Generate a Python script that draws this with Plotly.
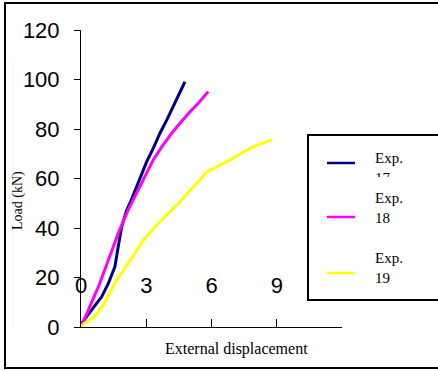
import plotly.graph_objects as go

# Load-displacement curves (displacement, load in kN)
exp17_x = [0, 0.03, 0.49, 0.95, 1.26, 1.56, 1.71, 1.87, 2.10, 2.25, 2.56, 2.79, 3.02, 3.32, 3.63, 3.94, 4.24, 4.47, 4.78]
exp17_y = [0, 1.5, 6.9, 12.2, 17.7, 24.4, 32.4, 40.5, 47.3, 50.0, 56.7, 62.1, 66.8, 72.2, 78.3, 83.6, 89.0, 93.1, 99.1]

exp18_x = [0, 0.34, 0.80, 1.26, 1.71, 2.17, 2.63, 2.94, 3.32, 3.71, 4.17, 4.55, 5.01, 5.39, 5.85]
exp18_y = [0, 6.9, 16.3, 27.1, 37.9, 47.3, 55.4, 60.7, 67.5, 72.8, 78.3, 82.3, 87.0, 90.4, 95.1]

exp19_x = [0, 0.16, 0.62, 1.08, 1.55, 2.01, 2.47, 2.93, 3.70, 4.31, 4.62, 5.09, 5.47, 5.78, 6.24, 6.85, 7.47, 8.08, 8.78]
exp19_y = [0, 1.5, 4.2, 9.6, 17.7, 23.7, 29.8, 35.8, 43.2, 48.6, 51.3, 56.0, 59.4, 62.7, 64.8, 67.5, 70.8, 73.5, 75.6]

series_names = ["Exp.<br>17", "Exp.<br>18", "Exp.<br>19"]
series_colors = ["#000080", "#FF00FF", "#FFFF00"]

x_ticks = [0, 3, 6, 9, 12]
x_tick_labels = ["0", "3", "6", "9", ""]
y_ticks = [0, 20, 40, 60, 80, 100, 120]
y_tick_labels = ["0", "20", "40", "60", "80", "100", "120"]

W, H = 438, 371
ML, MR, MT, MB = 81, 96, 30, 44
PW, PH = W - ML - MR, H - MT - MB


def px(xp):
    return (xp - ML) / PW


def py(yp):
    return (H - MB - yp) / PH


SANS = "Liberation Sans, Arial, sans-serif"
SERIF = "Liberation Serif, Times New Roman, serif"

fig = go.Figure()
for xs, ys, name, col in zip([exp17_x, exp18_x, exp19_x], [exp17_y, exp18_y, exp19_y],
                             series_names, series_colors):
    fig.add_trace(go.Scatter(x=xs, y=ys, mode="lines", name=name,
                             line=dict(color=col, width=3), showlegend=False))

# carrier trace for the raised displacement tick-label axis
fig.add_trace(go.Scatter(x=[x_ticks[0], x_ticks[-1]], y=[0, 0], xaxis="x2", mode="lines",
                         line=dict(width=0), hoverinfo="skip", showlegend=False))

shapes = []
annotations = []

# outer frame
shapes.append(dict(type="rect", xref="paper", yref="paper",
                   x0=px(5), x1=px(445), y0=py(368), y1=py(3),
                   line=dict(color="black", width=2), fillcolor="rgba(0,0,0,0)", layer="below"))
# faint guide at the left edge
shapes.append(dict(type="line", xref="paper", yref="paper",
                   x0=px(13), x1=px(13), y0=py(328), y1=py(63),
                   line=dict(color="#eeeeee", width=1), layer="below"))
# legend frame
shapes.append(dict(type="rect", xref="paper", yref="paper",
                   x0=px(308), x1=px(445), y0=py(300), y1=py(135),
                   line=dict(color="black", width=2), fillcolor="white"))

# legend entries: swatch y, text top y, text box height
legend_rows = [(163, 149, 27), (217, 189, None), (273, 249, None)]
for (sy, ty, hh), name, col in zip(legend_rows, series_names, series_colors):
    shapes.append(dict(type="line", xref="paper", yref="paper",
                       x0=px(327), x1=px(355), y0=py(sy), y1=py(sy),
                       line=dict(color=col, width=2.5)))
    ann = dict(text=name, xref="paper", yref="paper",
               x=px(374), y=py(ty), xanchor="left", yanchor="top", valign="top",
               showarrow=False, align="left", borderpad=0,
               font=dict(family=SERIF, size=15, color="black"))
    if hh:
        ann["height"] = hh
    annotations.append(ann)

# axis titles
annotations.append(dict(text="Load (kN)", xref="paper", yref="paper",
                        x=px(18), y=py(201), textangle=-90, showarrow=False,
                        xanchor="center", yanchor="middle",
                        font=dict(family=SERIF, size=14, color="black")))
annotations.append(dict(text="External displacement", xref="paper", yref="paper",
                        x=px(236), y=py(349), showarrow=False,
                        xanchor="center", yanchor="middle",
                        font=dict(family=SERIF, size=16, color="black")))

fig.update_layout(
    width=W, height=H,
    margin=dict(l=ML, r=MR, t=MT, b=MB, pad=0),
    paper_bgcolor="white", plot_bgcolor="white",
    shapes=shapes, annotations=annotations,
    xaxis=dict(range=[0, 12], tickvals=x_ticks, showticklabels=False,
               showgrid=False, zeroline=False, showline=True, linecolor="black", linewidth=1,
               ticks="inside", ticklen=8, tickcolor="black"),
    xaxis2=dict(range=[0, 12], tickvals=x_ticks, ticktext=x_tick_labels,
                overlaying="x", anchor="free", position=py(270), side="bottom",
                showgrid=False, zeroline=False, showline=False, ticks="",
                tickfont=dict(family=SANS, size=22, color="black")),
    yaxis=dict(range=[0, 120], tickvals=y_ticks, ticktext=y_tick_labels,
               showgrid=False, zeroline=False, showline=True, linecolor="black", linewidth=1,
               ticks="outside", ticklen=6, tickcolor="black", ticklabelstandoff=10,
               tickfont=dict(family=SANS, size=22, color="black")),
)

fig.write_html("out.html")
